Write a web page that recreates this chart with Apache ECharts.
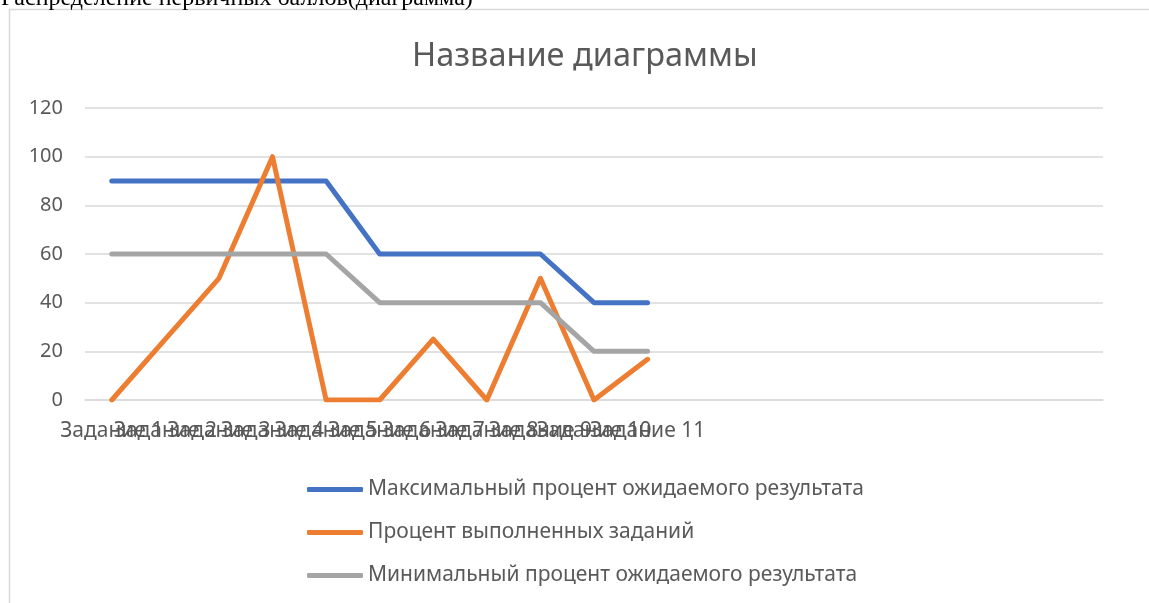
<!DOCTYPE html>
<html>
<head>
<meta charset="utf-8">
<script src="https://cdn.jsdelivr.net/npm/echarts@6/dist/echarts.min.js"></script>
<style>
html,body{margin:0;padding:0;background:#fff;}
#chart{width:1149px;height:603px;}
</style>
</head>
<body>
<div id="chart"></div>
<script>
const docHeading = 'Распределение первичных баллов(диаграмма)';
const chartTitle = 'Название диаграммы';
const categories = ['Задание 1','Задание 2','Задание 3','Задание 4','Задание 5','Задание 6','Задание 7','Задание 8','Задание 9','Задание 10','Задание 11','','','','','','','',''];
const seriesNames = ['Максимальный процент ожидаемого результата','Процент выполненных заданий','Минимальный процент ожидаемого результата'];
const maxExpected = [90,90,90,90,90,60,60,60,60,40,40];
const doneTasks = [0,25,50,100,0,0,25,0,50,0,16.7];
const minExpected = [60,60,60,60,60,40,40,40,40,20,20];
const yTicks = {min:0, max:120, interval:20};
const colors = ['#4472C4','#ED7D31','#A5A5A5'];

const chart = echarts.init(document.getElementById('chart'));
const font = '"Noto Sans", sans-serif';
function mk(name, data, color){
  return {
    name: name, type: 'line', data: data, symbol: 'none',
    lineStyle: {width: 5, color: color, cap: 'round', join: 'round'},
    itemStyle: {color: color},
    emphasis: {disabled: true}
  };
}
chart.setOption({
  animation: false,
  color: colors,
  title: {
    text: chartTitle, left: 407, top: 35,
    textStyle: {fontFamily: font, fontSize: 32.5, fontWeight: 'normal', color: '#595959'}
  },
  graphic: [
    {type: 'rect', shape: {x: 9.5, y: 9.5, width: 1200, height: 700},
     style: {fill: null, stroke: '#d9d9d9', lineWidth: 1.5}, silent: true},
    {type: 'text', left: 1, top: -13,
     style: {text: docHeading, fontFamily: '"Liberation Serif", serif', fontSize: 24, fill: '#000'}}
  ],
  grid: {left: 85, right: 46, top: 108, bottom: 203, containLabel: false},
  legend: {
    orient: 'vertical', left: 302, top: 474,
    itemWidth: 56, itemHeight: 5, itemGap: 22,
    icon: 'roundRect',
    textStyle: {fontFamily: font, fontSize: 21, color: '#595959'},
    data: seriesNames
  },
  xAxis: {
    type: 'category', data: categories, boundaryGap: true,
    axisLine: {lineStyle: {color: '#d9d9d9', width: 1.5}},
    axisTick: {show: false},
    axisLabel: {interval: 0, hideOverlap: false, margin: 21, fontFamily: font, fontSize: 21, color: '#595959'}
  },
  yAxis: {
    type: 'value', min: yTicks.min, max: yTicks.max, interval: yTicks.interval,
    axisLine: {show: false}, axisTick: {show: false},
    splitLine: {lineStyle: {color: '#d9d9d9', width: 1.5}},
    axisLabel: {margin: 22, fontFamily: font, fontSize: 20, color: '#595959'}
  },
  series: [
    mk(seriesNames[0], maxExpected, colors[0]),
    mk(seriesNames[1], doneTasks, colors[1]),
    mk(seriesNames[2], minExpected, colors[2])
  ]
});
</script>
</body>
</html>
